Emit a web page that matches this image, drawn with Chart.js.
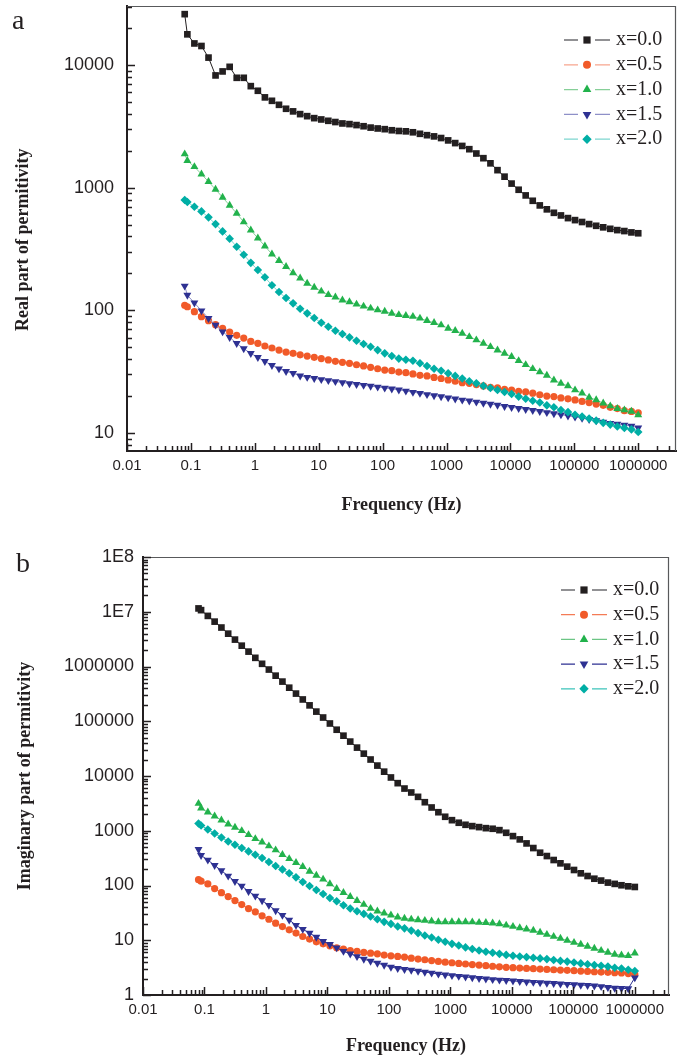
<!DOCTYPE html>
<html>
<head>
<meta charset="utf-8">
<script src="https://cdn.jsdelivr.net/npm/chart.js"></script>
<style>
  body { margin: 0; background: #fff; overflow: hidden; }
  #wrap { position: relative; width: 686px; height: 1059px; }
  canvas { position: absolute; left: 0; }
  #chartA { top: 0; }
  #chartB { top: 530px; }
  .panel { position: absolute; font: 28px "Liberation Serif", serif; color: #231f20; line-height: 28px; }
</style>
</head>
<body>
<div id="wrap">
  <canvas id="chartA" width="686" height="530"></canvas>
  <canvas id="chartB" width="686" height="529"></canvas>
  <div class="panel" style="left:12px; top:6px">a</div>
  <div class="panel" style="left:16px; top:549px">b</div>
</div>
<script>
// frequency sweep (Hz), same for both panels
var freq = [0.080, 0.088, 0.1134, 0.1463, 0.1886, 0.2430, 0.3133, 0.4040, 0.5208, 0.6713, 0.8653,
  1.116, 1.438, 1.854, 2.390, 3.082, 3.972, 5.121, 6.600, 8.509, 10.97, 14.14, 18.23, 23.50, 30.30,
  39.06, 50.35, 64.91, 83.68, 107.9, 139.1, 179.3, 231.1, 298.0, 384.1, 495.2, 638.3, 822.9, 1061,
  1368, 1763, 2273, 2930, 3777, 4869, 6277, 8091, 10430, 13450, 17340, 22350, 28810, 37140, 47880,
  61720, 79560, 102600, 132200, 170500, 219800, 283300, 365200, 470800, 606900, 782400, 1000000];

var seriesLabels = ['x=0.0', 'x=0.5', 'x=1.0', 'x=1.5', 'x=2.0'];

// panel a: real part of permitivity
var realX00 = [26000, 17800, 15000, 14300, 11500, 8230, 8870, 9670, 7870, 7870, 6730, 6170, 5450, 5110, 4740, 4400, 4190, 3980, 3830, 3690, 3600, 3510, 3430, 3340, 3300, 3240, 3170, 3090, 3040, 3000, 2940, 2900, 2880, 2830, 2750, 2680, 2620, 2540, 2430, 2310, 2190, 2060, 1900, 1740, 1580, 1390, 1230, 1080, 962, 865, 782, 717, 666, 624, 594, 565, 544, 525, 505, 489, 475, 462, 451, 443, 432, 425];
var realX05 = [110, 107, 97.5, 88.8, 82.3, 76.4, 71.3, 66.5, 62.5, 59.4, 55.8, 53.8, 51.2, 49.3, 47.4, 45.7, 44.6, 43.4, 42.4, 41.4, 40.4, 39.4, 38.4, 37.7, 37.0, 36.0, 35.2, 34.3, 33.4, 32.6, 32.2, 31.4, 31.0, 30.3, 29.5, 29.2, 28.4, 27.8, 27.1, 26.4, 25.7, 25.4, 24.8, 24.2, 23.6, 23.3, 22.7, 22.4, 21.9, 21.6, 21.1, 20.5, 20.0, 19.8, 19.3, 19.0, 18.6, 18.1, 17.7, 17.2, 16.8, 16.2, 15.8, 15.2, 15.0, 14.6];
var realX10 = [1880, 1660, 1480, 1290, 1120, 968, 834, 717, 617, 525, 451, 388, 334, 287, 254, 227, 202, 183, 166, 154, 143, 134, 128, 121, 117, 112, 108, 104, 100.5, 98, 94.5, 92, 90.5, 89.0, 86.1, 82.3, 79.3, 75.9, 71.3, 68.2, 64.9, 60.9, 57.3, 53.8, 50.5, 47.4, 44.6, 41.9, 38.8, 36.0, 33.4, 31.4, 29.5, 27.0, 25.4, 24.2, 22.4, 21.1, 19.5, 18.6, 17.5, 16.6, 15.8, 15.4, 15.0, 14.0];
var realX15 = [158, 133, 115, 99.3, 86.1, 75.9, 66.9, 60.2, 53.8, 48.7, 44.6, 41.4, 38.4, 35.6, 33.4, 31.8, 30.7, 29.2, 28.5, 27.9, 27.3, 26.8, 26.3, 25.8, 25.3, 24.9, 24.5, 24.1, 23.7, 23.3, 22.9, 22.5, 22.0, 21.5, 21.1, 20.6, 20.2, 19.8, 19.4, 19.0, 18.6, 18.3, 17.9, 17.5, 17.2, 16.9, 16.5, 16.2, 15.9, 15.6, 15.3, 15.0, 14.7, 14.4, 14.1, 13.8, 13.5, 13.2, 12.9, 12.6, 12.3, 12.0, 11.8, 11.6, 11.4, 11.0];
var realX20 = [793, 764, 699, 641, 573, 505, 440, 384, 330, 284, 244, 213, 186, 160, 141, 126, 114, 103, 94.5, 86.5, 79.3, 73.5, 68.2, 64.1, 60.2, 56.5, 53.1, 50.5, 47.4, 44.6, 42.4, 40.4, 39.5, 38.8, 37.0, 35.2, 33.4, 32.2, 30.7, 29.2, 27.8, 26.4, 25.4, 24.2, 23.3, 22.4, 21.6, 20.8, 19.8, 19.0, 18.3, 17.7, 16.8, 16.2, 15.4, 14.8, 14.1, 13.6, 13.1, 12.6, 12.1, 11.7, 11.3, 11.0, 10.7, 10.2];

// panel b: imaginary part of permitivity
var imagX00 = [1.15e7, 1.07e7, 8.4e6, 6.6e6, 5.15e6, 3.98e6, 3.1e6, 2.4e6, 1.87e6, 1.44e6, 1.12e6, 8.8e5, 6.8e5, 5.3e5, 4.1e5, 3.2e5, 2.5e5, 1.95e5, 1.5e5, 1.17e5, 9.1e4, 7.0e4, 5.45e4, 4.25e4, 3.3e4, 2.56e4, 2.0e4, 1.55e4, 1.2e4, 9400, 7400, 5900, 5000, 4160, 3320, 2660, 2180, 1800, 1560, 1400, 1285, 1215, 1165, 1115, 1087, 1026, 918, 798, 695, 587, 483, 397, 345, 292, 254, 221, 192, 167, 149, 133, 123, 113, 107, 101, 96.7, 94];
var imagX05 = [128, 120, 107, 87.7, 74.1, 62.7, 53.0, 44.9, 37.9, 33.0, 27.9, 24.2, 20.5, 17.8, 15.5, 13.5, 11.7, 10.5, 9.35, 8.6, 7.9, 7.3, 6.9, 6.5, 6.3, 6.0, 5.8, 5.66, 5.35, 5.2, 5.06, 4.92, 4.7, 4.53, 4.4, 4.25, 4.1, 3.98, 3.88, 3.78, 3.68, 3.6, 3.52, 3.43, 3.35, 3.27, 3.2, 3.15, 3.1, 3.06, 3.02, 2.98, 2.93, 2.89, 2.85, 2.82, 2.78, 2.74, 2.7, 2.66, 2.62, 2.59, 2.55, 2.52, 2.46, 2.38];
var imagX10 = [3140, 2580, 2180, 1850, 1560, 1320, 1150, 1000, 846, 715, 621, 525, 444, 365, 308, 261, 221, 181, 153, 130, 107, 87.7, 74.1, 62.7, 53.0, 44.9, 37.9, 33.9, 31.2, 28.7, 26.4, 25.0, 24.2, 23.5, 22.9, 22.3, 21.7, 21.7, 21.7, 21.7, 21.6, 21.5, 21.1, 21.0, 20.5, 19.9, 18.8, 17.8, 16.8, 15.9, 15.1, 13.9, 12.7, 11.7, 10.8, 9.9, 9.1, 8.4, 7.7, 7.1, 6.5, 6.0, 5.5, 5.35, 5.2, 5.8];
var imagX15 = [456, 355, 292, 233, 187, 149, 119, 98, 78.3, 64.4, 53.0, 43.6, 34.8, 28.7, 23.5, 18.8, 15.9, 13.5, 11.4, 9.6, 8.4, 7.3, 6.3, 5.66, 5.06, 4.53, 4.16, 3.83, 3.52, 3.24, 3.06, 2.95, 2.85, 2.74, 2.62, 2.52, 2.42, 2.34, 2.27, 2.2, 2.14, 2.08, 2.02, 1.97, 1.92, 1.88, 1.85, 1.81, 1.77, 1.74, 1.71, 1.68, 1.65, 1.63, 1.6, 1.57, 1.55, 1.52, 1.5, 1.47, 1.43, 1.38, 1.34, 1.32, 1.31, 2.07];
var imagX20 = [1360, 1250, 1057, 893, 755, 638, 555, 483, 420, 365, 317, 268, 227, 197, 167, 141, 116, 98, 82.8, 70.0, 59.3, 51.5, 43.6, 37.9, 33.9, 30.3, 27.1, 24.2, 21.7, 19.9, 17.8, 16.5, 15.0, 13.5, 12.2, 11.2, 10.2, 9.4, 8.6, 8.0, 7.4, 6.9, 6.5, 6.15, 5.9, 5.65, 5.4, 5.2, 5.05, 4.92, 4.78, 4.66, 4.53, 4.35, 4.2, 4.07, 3.92, 3.78, 3.65, 3.52, 3.42, 3.3, 3.15, 3.04, 2.89, 2.74];

// tick labels
var xTickValues = [0.01, 0.1, 1, 10, 100, 1000, 10000, 100000, 1000000];
var xTickLabels = ['0.01', '0.1', '1', '10', '100', '1000', '10000', '100000', '1000000'];
var yTickValuesA = [10, 100, 1000, 10000];
var yTickLabelsA = ['10', '100', '1000', '10000'];
var yTickValuesB = [1, 10, 100, 1000, 10000, 100000, 1000000, 10000000, 100000000];
var yTickLabelsB = ['1', '10', '100', '1000', '10000', '100000', '1000000', '1E7', '1E8'];

var seriesColors = ['#231f20', '#f15a29', '#22b24c', '#2e3192', '#00aea5'];
var lineColorsA = ['#6d6e71', '#f7a58e', '#86cf98', '#8e90c8', '#7ed6cf'];
var lineColorsB = ['#6d6e71', '#f47b56', '#6cc585', '#2e3192', '#3cc3ba'];
var markerStyles = ['rect', 'circle', 'triangle', 'triangle', 'rectRot'];
var markerRotation = [0, 0, 0, 180, 0];
var markerRadius = [4.7, 3.6, 4.6, 4.6, 4.3];

function logMarks(min, max) {
    var out = [];
    for (var e = Math.floor(Math.log10(min)); e <= Math.ceil(Math.log10(max)); e++) {
        for (var m = 1; m <= 9; m++) {
            var v = m * Math.pow(10, e);
            if (v >= min * 0.9999 && v <= max * 1.0001) out.push([v, m === 1]);
        }
    }
    return out;
}

// top/right frame and inward minor ticks
var frameAndTicks = {
    id: 'frameAndTicks',
    afterDraw: function (chart) {
        var ctx = chart.ctx, a = chart.chartArea, sx = chart.scales.x, sy = chart.scales.y;
        ctx.save();
        ctx.strokeStyle = '#58595b';
        ctx.lineWidth = 1.2;
        ctx.beginPath();
        ctx.moveTo(a.left, a.top + 0.5);
        ctx.lineTo(a.right - 0.5, a.top + 0.5);
        ctx.lineTo(a.right - 0.5, a.bottom);
        ctx.stroke();
        ctx.strokeStyle = '#231f20';
        ctx.lineWidth = 1.5;
        ctx.beginPath();
        logMarks(sx.min, sx.max).forEach(function (t) {
            var px = Math.round(sx.getPixelForValue(t[0])) + 0.5;
            ctx.moveTo(px, a.bottom);
            ctx.lineTo(px, a.bottom - (t[1] ? 8 : 5));
        });
        logMarks(sy.min, sy.max).forEach(function (t) {
            var py = Math.round(sy.getPixelForValue(t[0])) + 0.5;
            ctx.moveTo(a.left, py);
            ctx.lineTo(a.left + (t[1] ? 8 : 5), py);
        });
        ctx.stroke();
        ctx.restore();
    }
};

// legend: line - marker - line  label
var lineLegend = {
    id: 'lineLegend',
    afterDraw: function (chart, args, opts) {
        var ctx = chart.ctx;
        ctx.save();
        chart.data.datasets.forEach(function (ds, i) {
            var y = opts.top + i * opts.gap;
            ctx.strokeStyle = ds.legendLine;
            ctx.lineWidth = 1.3;
            ctx.beginPath();
            ctx.moveTo(opts.left, y);
            ctx.lineTo(opts.left + 14, y);
            ctx.moveTo(opts.left + 31, y);
            ctx.lineTo(opts.left + 46, y);
            ctx.stroke();
            ctx.fillStyle = ds.pointBackgroundColor;
            ctx.strokeStyle = ds.pointBackgroundColor;
            Chart.helpers.drawPoint(ctx, {
                pointStyle: ds.pointStyle, rotation: ds.pointRotation,
                radius: ds.pointRadius + 0.4, borderWidth: 0
            }, opts.left + 23, y);
            ctx.fillStyle = '#231f20';
            ctx.font = '20px "Liberation Serif"';
            ctx.textBaseline = 'middle';
            ctx.textAlign = 'left';
            ctx.fillText(ds.label, opts.left + 52, y);
        });
        ctx.restore();
    }
};

function makeChart(canvasId, cfg) {
    var datasets = seriesLabels.map(function (lab, i) {
        return {
            label: lab,
            data: freq.map(function (f, j) { return {x: f, y: cfg.values[i][j]}; }),
            borderColor: i === 0 ? seriesColors[0] : cfg.lineCols[i],
            borderWidth: 1,
            backgroundColor: seriesColors[i],
            pointStyle: markerStyles[i],
            pointRotation: markerRotation[i],
            pointRadius: markerRadius[i],
            pointBackgroundColor: seriesColors[i],
            pointBorderColor: seriesColors[i],
            pointBorderWidth: 0,
            legendLine: cfg.lineCols[i],
            tension: 0,
            order: -i
        };
    });

    return new Chart(document.getElementById(canvasId), {
        type: 'line',
        data: {datasets: datasets},
        plugins: [frameAndTicks, lineLegend],
        options: {
            responsive: false,
            animation: false,
            devicePixelRatio: 1,
            layout: {padding: cfg.padding},
            plugins: {
                legend: {display: false},
                tooltip: {enabled: false},
                lineLegend: cfg.legend
            },
            scales: {
                x: {
                    type: 'logarithmic',
                    min: 0.01,
                    max: cfg.xMax,
                    afterBuildTicks: function (s) { s.ticks = xTickValues.map(function (v) { return {value: v}; }); },
                    afterFit: function (s) { s.height = cfg.xAxisHeight; s.paddingLeft = 0; s.paddingRight = 0; },
                    grid: {display: false, drawTicks: false},
                    border: {display: true, color: '#231f20', width: 2},
                    ticks: {
                        autoSkip: false, maxRotation: 0, minRotation: 0, padding: 6, color: '#231f20',
                        font: {family: 'Liberation Sans', size: 15},
                        callback: function (v, i) { return xTickLabels[i]; }
                    },
                    title: {
                        display: true, text: 'Frequency (Hz)', color: '#231f20',
                        font: {family: 'Liberation Serif', size: 18, weight: 'bold'},
                        padding: {top: 0, bottom: cfg.xTitlePad}
                    }
                },
                y: {
                    type: 'logarithmic',
                    min: cfg.yMin,
                    max: cfg.yMax,
                    afterBuildTicks: function (s) { s.ticks = cfg.yTicks.map(function (v) { return {value: v}; }); },
                    afterFit: function (s) { s.width = cfg.yAxisWidth; s.paddingTop = 0; s.paddingBottom = 0; },
                    grid: {display: false, drawTicks: false},
                    border: {display: true, color: '#231f20', width: 2},
                    ticks: {
                        autoSkip: false, padding: cfg.yTickPad, color: '#231f20',
                        font: {family: 'Liberation Sans', size: 18},
                        callback: function (v, i) { return cfg.yLabels[i]; }
                    },
                    title: {
                        display: true, text: cfg.yTitle, color: '#231f20',
                        font: {family: 'Liberation Serif', size: 18, weight: 'bold'},
                        padding: {top: cfg.yTitlePad, bottom: 0}
                    }
                }
            }
        }
    });
}

var chartA = makeChart('chartA', {
    values: [realX00, realX05, realX10, realX15, realX20],
    lineCols: lineColorsA,
    padding: {left: 0, right: 10, top: 6, bottom: 0},
    xMax: 3.9e6, yMin: 7.13, yMax: 30300,
    yTicks: yTickValuesA, yLabels: yTickLabelsA,
    xAxisHeight: 79, yAxisWidth: 127, yTickPad: 13,
    xTitlePad: 14, yTitlePad: 12.7,
    yTitle: 'Real part of permitivity     ',
    legend: {left: 564, top: 40, gap: 24.8}
});

var chartB = makeChart('chartB', {
    values: [imagX00, imagX05, imagX10, imagX15, imagX20],
    lineCols: lineColorsB,
    padding: {left: 0, right: 17, top: 27, bottom: 0},
    xMax: 3.6e6, yMin: 1, yMax: 1e8,
    yTicks: yTickValuesB, yLabels: yTickLabelsB,
    xAxisHeight: 64, yAxisWidth: 143, yTickPad: 9,
    xTitlePad: 1.5, yTitlePad: 14.2,
    yTitle: 'Imaginary part of permitivity',
    legend: {left: 561, top: 60, gap: 24.7}
});
</script>
</body>
</html>
